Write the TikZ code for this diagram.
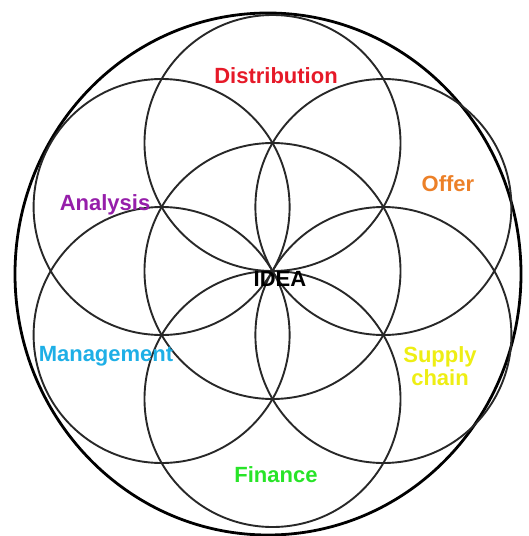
\documentclass[tikz,border=0pt]{standalone}
\usepackage{fontspec}
\setmainfont{Liberation Sans}
\usepackage{xcolor}
\usepackage{tikz}
\usetikzlibrary{positioning}
\definecolor{ringgray}{RGB}{40,40,40}
\definecolor{distred}{RGB}{230,25,40}
\definecolor{offerorange}{RGB}{236,128,40}
\definecolor{anapurple}{RGB}{150,30,170}
\definecolor{mgmtcyan}{RGB}{30,175,230}
\definecolor{supplyyellow}{RGB}{238,238,20}
\definecolor{fingreen}{RGB}{40,228,40}

\tikzset{
  petal/.style={draw=ringgray, line width=1.9pt},
  lbl/.style={font=\bfseries\fontsize{22}{23}\selectfont, anchor=base, align=center, inner sep=0pt}
}

\begin{document}
\begin{tikzpicture}[x=1pt, y=-1pt]
  \useasboundingbox (0,0) rectangle (528,536);
  % outer ring
  \draw[black, line width=2.8pt] (268,274) ellipse (253 and 261);
  % seed of life
  \draw[petal] (272.5,271) circle (128);
  \draw[petal] (272.5,143) circle (128);
  \draw[petal] (272.5,399) circle (128);
  \draw[petal] (161.6,207) circle (128);
  \draw[petal] (383.4,207) circle (128);
  \draw[petal] (161.6,335) circle (128);
  \draw[petal] (383.4,335) circle (128);
  % labels
  \node[lbl, text=black] (idea) at (280,286) {IDEA};
  \node[lbl, text=distred] (distribution) at (276,83) {Distribution};
  \node[lbl, text=offerorange] (offer) at (448,191) {Offer};
  \node[lbl, text=anapurple] (analysis) at (105,210) {Analysis};
  \node[lbl, text=mgmtcyan] (management) at (106,361) {Management};
  \node[lbl, text=supplyyellow] (supply) at (440,385) {Supply\\chain};
  \node[lbl, text=fingreen] (finance) at (276,482) {Finance};
\end{tikzpicture}
\end{document}
